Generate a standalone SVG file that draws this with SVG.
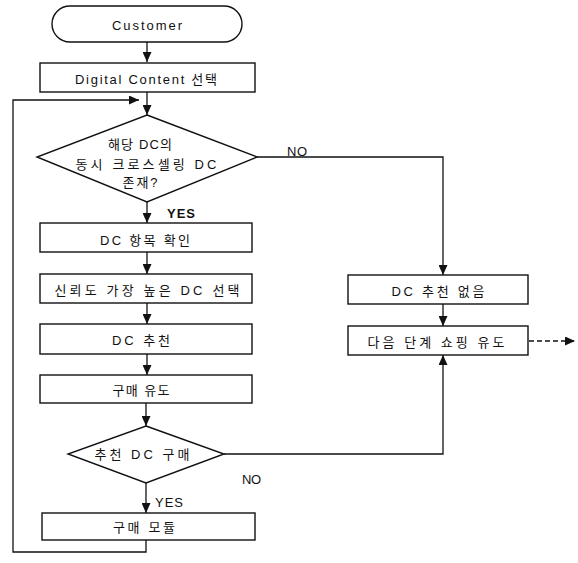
<svg xmlns="http://www.w3.org/2000/svg" width="578" height="563" viewBox="0 0 578 563">
<style>
.s{fill:#fff;stroke:#111;stroke-width:1.4}
.c{fill:none;stroke:#111;stroke-width:1.3}
.t{font-family:"Liberation Sans","Noto Sans CJK KR",sans-serif;font-size:13px;fill:#111;text-anchor:middle}
.l{font-family:"Liberation Sans","Noto Sans CJK KR",sans-serif;font-size:13px;fill:#111}
</style>
<defs>
<marker id="a" markerUnits="userSpaceOnUse" markerWidth="10" markerHeight="9" refX="10" refY="4.5" orient="auto">
<path d="M0,0 L10,4.5 L0,9 z" fill="#111"/>
</marker>
</defs>
<rect width="578" height="563" fill="#fff"/>
<g id="connectors">
<path class="c" d="M147,42 V62" marker-end="url(#a)"/>
<path class="c" d="M146,540 V552 H13 V100 H139" marker-end="url(#a)"/>
<path class="c" d="M147,92 V115" marker-end="url(#a)"/>
<path class="c" d="M147,202 V223" marker-end="url(#a)"/>
<path class="c" d="M147,252 V274" marker-end="url(#a)"/>
<path class="c" d="M147,303 V324" marker-end="url(#a)"/>
<path class="c" d="M147,354 V375" marker-end="url(#a)"/>
<path class="c" d="M146,403 V426" marker-end="url(#a)"/>
<path class="c" d="M146,483 V513" marker-end="url(#a)"/>
<path class="c" d="M257,157 H443 V275" marker-end="url(#a)"/>
<path class="c" d="M443,304 V326" marker-end="url(#a)"/>
<path class="c" d="M224,454 H443 V355" marker-end="url(#a)"/>
<path class="c" d="M529,341 H575" stroke-dasharray="5,3" marker-end="url(#a)"/>
<text class="l" x="287" y="156" textLength="20">NO</text>
<text class="l" x="167" y="218" font-weight="bold" textLength="28">YES</text>
<text class="l" x="242" y="484" textLength="19">NO</text>
<text class="l" x="155" y="507" textLength="28">YES</text>
</g>
<g id="customer">
<rect class="s" x="52" y="6" width="190" height="36" rx="18"/>
<text class="t" x="147" y="30" textLength="70">Customer</text>
</g>
<g id="select">
<rect class="s" x="40" y="63" width="215" height="29"/>
<text class="t" x="146" y="84" textLength="142" lengthAdjust="spacing">Digital Content 선택</text>
</g>
<g id="decision1">
<polygon class="s" points="147,115 257,157 147,202 37,157"/>
<text class="t" x="140" y="149" textLength="64">해당 DC의</text>
<text class="t" x="146" y="169" textLength="141">동시 크로스셀링 DC</text>
<text class="t" x="140" y="187" textLength="35">존재?</text>
</g>
<g id="check">
<rect class="s" x="40" y="223" width="212" height="29"/>
<text class="t" x="145" y="245" textLength="90">DC 항목 확인</text>
</g>
<g id="best">
<rect class="s" x="40" y="274" width="212" height="29"/>
<text class="t" x="147" y="295" textLength="185">신뢰도 가장 높은 DC 선택</text>
</g>
<g id="recommend">
<rect class="s" x="40" y="324" width="212" height="30"/>
<text class="t" x="141" y="345" textLength="58">DC 추천</text>
</g>
<g id="induce">
<rect class="s" x="40" y="375" width="212" height="28"/>
<text class="t" x="141" y="395" textLength="57">구매 유도</text>
</g>
<g id="decision2">
<polygon class="s" points="146,426 224,454 146,483 68,454"/>
<text class="t" x="142" y="459" textLength="95">추천 DC 구매</text>
</g>
<g id="purchase">
<rect class="s" x="42" y="513" width="213" height="27"/>
<text class="t" x="144" y="532" textLength="62">구매 모듈</text>
</g>
<g id="norec">
<rect class="s" x="348" y="275" width="180" height="29"/>
<text class="t" x="438" y="296" textLength="93">DC 추천 없음</text>
</g>
<g id="next">
<rect class="s" x="348" y="326" width="180" height="29"/>
<text class="t" x="436" y="347" textLength="137">다음 단계 쇼핑 유도</text>
</g>
</svg>
